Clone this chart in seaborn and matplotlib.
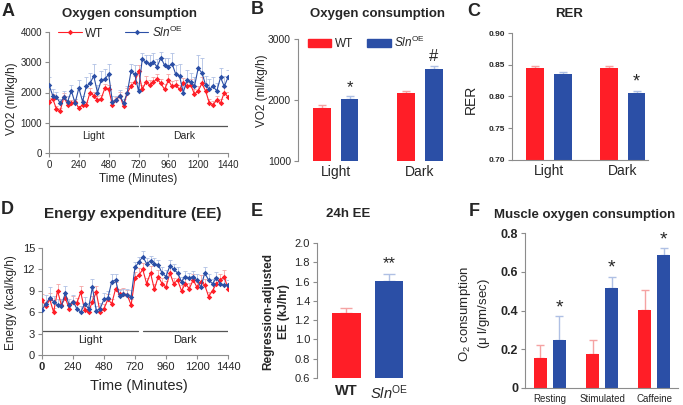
"""
Metabolic phenotype panels (A-F): WT vs Sln overexpression.
"""
import pandas as pd
import seaborn as sns
import matplotlib.pyplot as plt
from matplotlib.lines import Line2D
from matplotlib.patches import Patch

sns.set_style("ticks")
plt.rcParams['font.family'] = ['Liberation Sans', 'DejaVu Sans']
plt.rcParams['mathtext.fontset'] = 'custom'
plt.rcParams['mathtext.rm'] = 'Liberation Sans'
plt.rcParams['mathtext.it'] = 'Liberation Sans:italic'
plt.rcParams['mathtext.bf'] = 'Liberation Sans:bold'

RED = '#FF1E27'
BLUE = '#2B4FA6'
RED_ERR = '#F5A3A3'
BLUE_ERR = '#AFC0E4'
SPINE = '#8C8C8C'
PALETTE = {'WT': RED, 'SlnOE': BLUE}
ERR_COLORS = {'WT': RED_ERR, 'SlnOE': BLUE_ERR}
SLN_LABEL = r'$\mathit{Sln}^{\mathrm{OE}}$'
GROUPS = ['WT', 'SlnOE']

# ---- time courses (30-min bins) ----
minutes = [0, 30, 60, 90, 120, 150, 180,
           210, 240, 270, 300, 330, 360, 390,
           420, 450, 480, 510, 540, 570, 600,
           630, 660, 690, 720, 750, 780, 810,
           840, 870, 900, 930, 960, 990, 1020,
           1050, 1080, 1110, 1140, 1170, 1200, 1230,
           1260, 1290, 1320, 1350, 1380, 1410, 1440]

vo2_wt = [1700, 1800, 1450, 1400, 1850, 1600, 1650,
          1700, 1480, 1600, 1580, 2000, 1900, 1750,
          1800, 2150, 2100, 1600, 1750, 1900, 1550,
          2000, 2200, 2350, 2700, 2100, 2350, 2250,
          2350, 2450, 2300, 2100, 2400, 2200, 2250,
          2100, 2300, 2200, 2250, 1950, 2050, 2300,
          2050, 1650, 1600, 1750, 1650, 2000, 1850]
vo2_wt_err = [120, 150, 100, 90, 130, 120, 110,
              100, 90, 120, 110, 150, 130, 120,
              110, 140, 160, 120, 110, 130, 100,
              140, 160, 180, 200, 150, 180, 160,
              170, 150, 160, 170, 200, 180, 160,
              150, 170, 160, 180, 150, 160, 200,
              180, 140, 120, 130, 150, 170, 160]
vo2_sln = [2250, 1900, 1850, 1650, 1850, 1700, 2050,
           1650, 2150, 1700, 2200, 2300, 2550, 2000,
           2400, 2450, 2600, 1700, 1750, 1900, 1650,
           2000, 2700, 2600, 2050, 3100, 3000, 2950,
           3000, 2850, 3150, 2900, 2850, 2950, 2600,
           2550, 2000, 2400, 2350, 2200, 2800, 2650,
           2250, 2100, 2200, 2050, 2500, 2200, 2500]
vo2_sln_err = [250, 200, 180, 150, 200, 180, 200,
               150, 250, 200, 300, 350, 380, 250,
               300, 320, 350, 200, 150, 180, 150,
               200, 250, 300, 250, 200, 250, 280,
               300, 250, 200, 250, 300, 350, 300,
               400, 300, 350, 300, 300, 450, 500,
               300, 350, 300, 250, 300, 350, 250]

ee_wt = [7.7, 6.8, 7.8, 6.0, 9.0, 7.0, 8.0,
         6.5, 7.5, 7.3, 8.8, 6.3, 6.0, 7.5,
         8.8, 6.0, 6.5, 7.8, 7.2, 9.3, 8.5,
         8.6, 8.4, 7.0, 10.8, 11.2, 12.0, 10.0,
         11.5, 9.2, 11.0, 10.0, 9.5, 11.5, 10.0,
         10.5, 9.0, 10.0, 9.3, 10.5, 9.5, 10.3,
         9.8, 8.2, 9.0, 10.0, 10.5, 11.0, 9.3]
ee_wt_err = [0.8, 0.7, 0.9, 0.6, 0.9, 0.8, 0.7,
             0.7, 0.8, 0.7, 0.9, 0.6, 0.7, 0.8,
             0.9, 0.6, 0.7, 0.8, 0.7, 0.9, 0.8,
             0.8, 0.7, 0.8, 0.9, 1.0, 0.9, 0.8,
             1.0, 0.8, 0.9, 0.8, 0.9, 1.0, 0.8,
             0.9, 0.8, 0.9, 0.8, 0.9, 0.8, 0.9,
             0.8, 0.7, 0.8, 0.9, 0.8, 0.9, 0.7]
ee_sln = [6.3, 7.2, 8.0, 7.5, 7.0, 6.8, 8.7,
          7.0, 7.5, 6.5, 6.0, 7.2, 6.5, 9.5,
          6.2, 6.5, 7.8, 8.0, 10.3, 10.5, 8.3,
          8.5, 8.4, 8.2, 12.3, 13.0, 13.8, 12.8,
          13.2, 12.8, 12.6, 11.5, 11.0, 12.5, 12.0,
          11.5, 10.3, 11.0, 10.8, 11.0, 10.5, 9.5,
          11.5, 10.5, 10.0, 10.8, 10.0, 9.8, 9.8]
ee_sln_err = [0.7, 1.2, 1.5, 0.8, 0.9, 1.0, 1.0,
              0.8, 0.9, 0.7, 0.8, 0.9, 0.8, 1.2,
              0.7, 0.8, 0.9, 1.0, 1.0, 0.9, 0.8,
              0.7, 0.8, 0.9, 0.8, 0.7, 0.8, 0.8,
              0.7, 0.8, 0.7, 0.8, 0.9, 0.8, 0.7,
              0.8, 0.7, 0.8, 0.7, 0.8, 0.9, 0.8,
              0.9, 0.8, 0.7, 0.8, 0.7, 0.8, 0.7]

# ---- bar panels ----
phases = ['Light', 'Dark']
vo2_bar_wt = [1870, 2110]
vo2_bar_wt_err = [45, 45]
vo2_bar_sln = [2010, 2510]
vo2_bar_sln_err = [50, 55]
vo2_marks = ['*', '#']

rer_wt = [0.845, 0.845]
rer_wt_err = [0.003, 0.003]
rer_sln = [0.836, 0.806]
rer_sln_err = [0.003, 0.003]
rer_marks = ['', '*']

ee24_groups = ['WT', 'SlnOE']
ee24_values = [1.27, 1.61]
ee24_err = [0.06, 0.07]

muscle_states = ['Resting', 'Stimulated', 'Caffeine']
muscle_wt = [0.155, 0.175, 0.405]
muscle_wt_err = [0.065, 0.075, 0.10]
muscle_sln = [0.25, 0.515, 0.685]
muscle_sln_err = [0.12, 0.06, 0.035]
muscle_marks = ['*', '*', '*']

W, H = 683, 405
fig = plt.figure(figsize=(W / 100, H / 100), dpi=100)


def box(left, top, right, bottom):
    return [left / W, 1 - bottom / H, (right - left) / W, (bottom - top) / H]


def fig_text(x, y, s, **kw):
    fig.text(x / W, 1 - y / H, s, ha='center', va='center', **kw)


def style_axes(ax, bottom=True):
    sns.despine(ax=ax, bottom=not bottom)
    for side in ['left', 'bottom']:
        ax.spines[side].set_color(SPINE)
        ax.spines[side].set_linewidth(0.8)
    ax.tick_params(direction='out', length=3, width=0.8, color=SPINE, pad=2)


def draw_timecourse(ax, wt, wt_err, sln, sln_err):
    n = len(minutes)
    ax.errorbar(minutes, wt, yerr=[[0] * n, wt_err], fmt='none', ecolor=RED_ERR,
                elinewidth=0.6, capsize=1.5, capthick=0.6, zorder=1)
    ax.errorbar(minutes, sln, yerr=[[0] * n, sln_err], fmt='none', ecolor=BLUE_ERR,
                elinewidth=0.6, capsize=1.5, capthick=0.6, zorder=1)
    df = pd.DataFrame({'minute': minutes * 2, 'value': wt + sln,
                       'group': ['WT'] * n + ['SlnOE'] * n})
    sns.lineplot(data=df, x='minute', y='value', hue='group', hue_order=GROUPS,
                 palette=PALETTE, marker='D', markersize=2.8, markeredgewidth=0,
                 linewidth=0.8, legend=False, ax=ax, zorder=3)
    ax.set_xlim(0, 1440)
    ax.set_xticks([0, 240, 480, 720, 960, 1200, 1440])


def phase_bars(ax, light_end, dark_start, level, text_level, fs):
    ax.plot([0, light_end], [level, level], color='#555555', lw=0.9)
    ax.plot([dark_start, 1440], [level, level], color='#555555', lw=0.9)
    ax.text(light_end / 2, text_level, 'Light', ha='center', va='center', fontsize=fs)
    ax.text((dark_start + 1440) / 2, text_level, 'Dark', ha='center', va='center', fontsize=fs)


def add_bar_errors(ax, errs, marks=None, mark_fs=10, mark_off=0.0):
    for container, label in zip(ax.containers, errs):
        err = errs[label]
        for i, bar in enumerate(container):
            x = bar.get_x() + bar.get_width() / 2
            h = bar.get_height()
            ax.errorbar([x], [h], yerr=[[0], [err[i]]], fmt='none',
                        ecolor=ERR_COLORS[label], elinewidth=1.0, capsize=3,
                        capthick=1.0, zorder=1)
            if marks and label in marks and marks[label][i]:
                ax.text(x, h + err[i] + mark_off, marks[label][i], ha='center',
                        va='bottom', fontsize=mark_fs)


def grouped_bars(ax, cats, wt, sln, width):
    df = pd.DataFrame({'cat': cats * 2, 'value': wt + sln,
                       'group': ['WT'] * len(cats) + ['SlnOE'] * len(cats)})
    sns.barplot(data=df, x='cat', y='value', hue='group', hue_order=GROUPS,
                palette=PALETTE, saturation=1, width=width, gap=0.35, linewidth=0,
                errorbar=None, legend=False, ax=ax, zorder=2)
    ax.set_xlabel('')


# ---------------- A ----------------
axA = fig.add_axes(box(49, 32, 228, 153))
draw_timecourse(axA, vo2_wt, vo2_wt_err, vo2_sln, vo2_sln_err)
phase_bars(axA, 716, 735, 890, 560, 7.5)
axA.set_ylim(0, 4000)
axA.set_yticks([0, 1000, 2000, 3000, 4000])
style_axes(axA)
axA.tick_params(labelsize=7)
axA.set_ylabel('VO2 (ml/kg/h)', fontsize=8.5)
axA.yaxis.set_label_coords(-0.175, 0.45)
axA.set_xlabel('Time (Minutes)', fontsize=8.5)
axA.xaxis.set_label_coords(0.5, -0.165)
handles = [Line2D([], [], color=RED, marker='D', ms=2.8, mew=0, lw=0.8),
           Line2D([], [], color=BLUE, marker='D', ms=2.8, mew=0, lw=0.8)]
axA.legend(handles, ['WT', SLN_LABEL], loc='center', bbox_to_anchor=(0.4, 1.0),
           ncol=2, frameon=False, fontsize=8.5, handlelength=2.0,
           handletextpad=0.3, columnspacing=1.8, borderpad=0)

# ---------------- B ----------------
axB = fig.add_axes(box(298, 39, 447, 161))
grouped_bars(axB, phases, vo2_bar_wt, vo2_bar_sln, 0.65)
add_bar_errors(axB, {'WT': vo2_bar_wt_err, 'SlnOE': vo2_bar_sln_err},
               {'SlnOE': vo2_marks}, mark_fs=12, mark_off=20)
axB.set_ylim(1000, 3000)
axB.set_yticks([1000, 2000, 3000])
axB.set_xlim(-0.45, 1.32)
style_axes(axB, bottom=False)
axB.tick_params(axis='y', labelsize=7.5)
axB.tick_params(axis='x', length=0, labelsize=10, pad=3)
axB.set_ylabel('VO2 (ml/kg/h)', fontsize=8.5)
axB.yaxis.set_label_coords(-0.20, 0.58)
axB.legend([Patch(color=RED), Patch(color=BLUE)], ['WT', SLN_LABEL], loc='center',
           bbox_to_anchor=(0.46, 0.97), ncol=2, frameon=False, fontsize=8.5,
           handlelength=2.0, handleheight=0.7, handletextpad=0.3,
           columnspacing=1.2, borderpad=0)

# ---------------- C ----------------
axC = fig.add_axes(box(512, 33, 648, 160))
grouped_bars(axC, phases, rer_wt, rer_sln, 0.74)
add_bar_errors(axC, {'WT': rer_wt_err, 'SlnOE': rer_sln_err},
               {'SlnOE': rer_marks}, mark_fs=13, mark_off=0.001)
axC.set_ylim(0.70, 0.90)
axC.set_yticks([0.70, 0.75, 0.80, 0.85, 0.90])
axC.set_yticklabels(['0.70', '0.75', '0.80', '0.85', '0.90'], fontweight='bold')
axC.set_xlim(-0.5, 1.34)
style_axes(axC)
axC.tick_params(axis='y', labelsize=6)
axC.tick_params(axis='x', length=0, labelsize=10, pad=3)
axC.set_ylabel('RER', fontsize=10)
axC.yaxis.set_label_coords(-0.25, 0.48)

# ---------------- D ----------------
axD = fig.add_axes(box(42, 248, 228, 355))
draw_timecourse(axD, ee_wt, ee_wt_err, ee_sln, ee_sln_err)
phase_bars(axD, 740, 780, 3.35, 2.1, 8)
axD.set_ylim(0, 15)
axD.set_yticks([0, 3, 6, 9, 12, 15])
style_axes(axD)
axD.tick_params(labelsize=8)
axD.get_xticklabels()[0].set_fontweight('bold')
axD.set_ylabel('Energy (kcal/kg/h)', fontsize=8.5)
axD.yaxis.set_label_coords(-0.135, 0.49)
axD.set_xlabel('Time (Minutes)', fontsize=10.5)
axD.xaxis.set_label_coords(0.52, -0.22)

# ---------------- E ----------------
axE = fig.add_axes(box(317, 243, 410, 378))
dfE = pd.DataFrame({'group': ee24_groups, 'value': ee24_values})
sns.barplot(data=dfE, x='group', y='value', hue='group', hue_order=GROUPS,
            palette=PALETTE, saturation=1, width=0.66, linewidth=0, errorbar=None,
            legend=False, ax=axE, zorder=2)
for i, bar in enumerate(axE.patches):
    x = bar.get_x() + bar.get_width() / 2
    h = bar.get_height()
    g = ee24_groups[i]
    axE.errorbar([x], [h], yerr=[[0], [ee24_err[i]]], fmt='none',
                 ecolor=ERR_COLORS[g], elinewidth=1.0, capsize=4, capthick=1.0, zorder=1)
axE.text(1, ee24_values[1] + ee24_err[1] + 0.03, '**', ha='center', va='bottom', fontsize=12)
axE.set_ylim(0.6, 2.0)
axE.set_yticks([0.6, 0.8, 1.0, 1.2, 1.4, 1.6, 1.8, 2.0])
axE.set_yticklabels(['0.6', '0.8', '1.0', '1.2', '1.4', '1.6', '1.8', '2.0'])
axE.set_xlim(-0.69, 1.49)
axE.set_xticks([0, 1])
axE.set_xticklabels(['WT', SLN_LABEL])
axE.get_xticklabels()[0].set_fontweight('bold')
axE.set_xlabel('')
style_axes(axE, bottom=False)
axE.tick_params(axis='y', labelsize=8)
axE.tick_params(axis='x', length=0, labelsize=10.5, pad=4)
axE.set_ylabel('Regression-adjusted\nEE (kJ/hr)', fontsize=8.5, fontweight='bold',
               linespacing=1.4)
axE.yaxis.set_label_coords(-0.29, 0.49)

# ---------------- F ----------------
axF = fig.add_axes(box(525, 233, 678, 388))
grouped_bars(axF, muscle_states, muscle_wt, muscle_sln, 0.73)
add_bar_errors(axF, {'WT': muscle_wt_err, 'SlnOE': muscle_sln_err},
               {'SlnOE': muscle_marks}, mark_fs=14, mark_off=0.0)
axF.set_ylim(0, 0.8)
axF.set_yticks([0, 0.2, 0.4, 0.6, 0.8])
axF.set_yticklabels(['0', '0.2', '0.4', '0.6', '0.8'], fontweight='bold')
axF.set_xlim(-0.48, 2.46)
style_axes(axF)
axF.tick_params(axis='y', labelsize=9)
axF.tick_params(axis='x', length=0, labelsize=7, pad=4)
axF.set_ylabel('O$_2$ consumption\n($\\mathrm{\\mu}$ l/gm/sec)', fontsize=9.5, linespacing=1.3)
axF.yaxis.set_label_coords(-0.215, 0.48)

# ---------------- titles and panel letters ----------------
fig_text(130, 14, 'Oxygen consumption', fontsize=9.5, fontweight='bold')
fig_text(378, 14, 'Oxygen consumption', fontsize=9.5, fontweight='bold')
fig_text(569, 14, 'RER', fontsize=9.5, fontweight='bold')
fig_text(133, 214, 'Energy expenditure (EE)', fontsize=11, fontweight='bold')
fig_text(348, 214, '24h EE', fontsize=9.5, fontweight='bold')
fig_text(585, 215, 'Muscle oxygen consumption', fontsize=9.5, fontweight='bold')
for letter, x, y in [('A', 8, 11), ('B', 257, 10), ('C', 474, 11),
                     ('D', 7, 210), ('E', 257, 211), ('F', 474, 212)]:
    fig_text(x, y, letter, fontsize=13, fontweight='bold')

fig.savefig('out.png', dpi=100, facecolor='white')
